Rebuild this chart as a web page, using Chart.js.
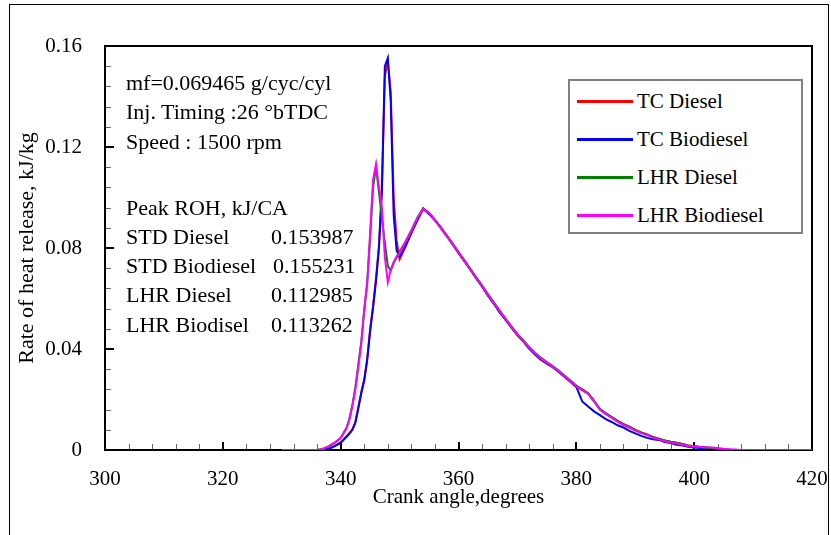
<!DOCTYPE html>
<html>
<head>
<meta charset="utf-8">
<script src="https://cdn.jsdelivr.net/npm/chart.js@4"></script>
<style>
  body { margin: 0; background: #fff; }
  #wrap { position: relative; width: 831px; height: 535px; overflow: hidden; font-family: 'Liberation Serif', 'Times New Roman', serif; }
  #frame { position: absolute; left: 9px; top: 4px; width: 818px; height: 560px; border: 1px solid #000; }
  canvas { position: absolute; left: 0; top: 0; }
  .note { position: absolute; font-size: 22px; line-height: 28px; white-space: pre; color: #000; }
  #legend { position: absolute; left: 568px; top: 79px; width: 231px; height: 151px; border: 2px solid #808080; background: #fff; }
  .lg-row { position: absolute; left: 0; height: 24px; }
  .lg-line { position: absolute; left: 7px; top: 11px; width: 56px; height: 0; border-top: 3px solid; }
  .lg-text { position: absolute; left: 67px; top: 0; font-size: 21px; line-height: 24px; white-space: pre; }
</style>
</head>
<body>
<div id="wrap">
  <div id="frame"></div>
  <canvas id="chart" width="831" height="535"></canvas>

  <div class="note" style="left:126px; top:69px;">mf=0.069465 g/cyc/cyl</div>
  <div class="note" style="left:126px; top:98px;">Inj. Timing :26 °bTDC</div>
  <div class="note" style="left:126px; top:128px;">Speed : 1500 rpm</div>
  <div class="note" style="left:126px; top:194px;">Peak ROH, kJ/CA</div>
  <div class="note" style="left:126px; top:223px;">STD Diesel</div>
  <div class="note" style="left:271px; top:223px;">0.153987</div>
  <div class="note" style="left:126px; top:252px;">STD Biodiesel</div>
  <div class="note" style="left:273px; top:252px;">0.155231</div>
  <div class="note" style="left:126px; top:281px;">LHR Diesel</div>
  <div class="note" style="left:271px; top:281px;">0.112985</div>
  <div class="note" style="left:126px; top:311px;">LHR Biodisel</div>
  <div class="note" style="left:271px; top:311px;">0.113262</div>

  <div id="legend"></div>
</div>

<script>
  // crank angle (deg), shared by all four curves
  const angles = [330, 332, 334, 336, 337, 338, 339,
    340, 340.5, 341, 341.5, 342, 342.5, 343, 343.5, 344, 344.5, 345, 345.5,
    346, 346.5, 347, 347.5, 348, 348.5, 349, 349.5, 350,
    351, 352, 353, 354, 355, 356, 357, 358, 359, 360,
    361, 362, 363, 364, 365, 366, 367, 368, 369, 370,
    371, 372, 373, 374, 375, 376, 377, 378, 379, 380,
    381, 382, 383, 384, 385, 386, 387, 388, 389, 390,
    391, 392, 393, 394, 395, 396, 397, 398, 399, 400,
    401, 402, 403, 404, 405, 406, 407, 408, 409, 410,
    412, 416, 420];

  // rate of heat release, kJ/kg
  const tcDiesel = [null, null, null, 0, 0, 0.0005, 0.0016,
    0.003, 0.0042, 0.0055, 0.0068, 0.0083, 0.0112, 0.017, 0.023, 0.028, 0.036, 0.048, 0.057,
    0.068, 0.081, 0.104, 0.148, 0.154, 0.142, 0.1, 0.083, 0.0755,
    0.0805, 0.086, 0.091, 0.0955, 0.0935, 0.091, 0.088, 0.0848, 0.0815, 0.078,
    0.0748, 0.0715, 0.068, 0.0648, 0.0612, 0.058, 0.0545, 0.0515, 0.0485, 0.0455,
    0.043, 0.0402, 0.0378, 0.0358, 0.0342, 0.0328, 0.031, 0.029, 0.027, 0.025,
    0.024, 0.0225, 0.0195, 0.0162, 0.0145, 0.013, 0.0115, 0.0102, 0.0092, 0.008,
    0.007, 0.0062, 0.0052, 0.0045, 0.0038, 0.0033, 0.0029, 0.0024, 0.0018, 0.0015,
    0.0012, 0.001, 0.0008, 0.0005, 0.0002, 0, null, null, null, null,
    null, null, null];

  const tcBiodiesel = [null, null, null, 0, 0, 0.0005, 0.0015,
    0.0028, 0.004, 0.0052, 0.0065, 0.008, 0.0108, 0.0165, 0.0225, 0.0275, 0.0355, 0.047, 0.0565,
    0.067, 0.08, 0.103, 0.152, 0.1552, 0.138, 0.093, 0.079, 0.0765,
    0.081, 0.086, 0.091, 0.0955, 0.0935, 0.091, 0.088, 0.0848, 0.0815, 0.078,
    0.0748, 0.0715, 0.068, 0.0648, 0.0612, 0.058, 0.0545, 0.0515, 0.0485, 0.0455,
    0.043, 0.0402, 0.0378, 0.0358, 0.0342, 0.0328, 0.031, 0.029, 0.027, 0.025,
    0.0192, 0.0172, 0.0153, 0.0138, 0.0122, 0.0111, 0.0098, 0.0089, 0.0076, 0.0066,
    0.0056, 0.0048, 0.0043, 0.004, 0.0032, 0.0028, 0.0021, 0.0018, 0.0013, 0.001,
    0.0008, 0.0008, 0.0005, 0.0003, 0.0002, 0.0001, 0, 0, 0, 0,
    null, null, null];

  const lhrDiesel = [null, 0, 0, 0, 0.0004, 0.0014, 0.0028,
    0.0047, 0.0068, 0.0088, 0.0125, 0.018, 0.025, 0.034, 0.043, 0.055, 0.066, 0.084, 0.104,
    0.112, 0.102, 0.092, 0.082, 0.073, 0.071, 0.074, 0.0765, 0.0785,
    0.0825, 0.087, 0.092, 0.0958, 0.094, 0.0912, 0.0883, 0.085, 0.0818, 0.0785,
    0.0752, 0.0718, 0.0685, 0.0652, 0.0618, 0.0585, 0.0552, 0.052, 0.049, 0.046,
    0.0435, 0.0408, 0.0385, 0.0365, 0.0348, 0.0332, 0.0315, 0.0295, 0.0275, 0.0255,
    0.024, 0.0225, 0.0195, 0.0162, 0.0145, 0.013, 0.0115, 0.0102, 0.0092, 0.008,
    0.007, 0.0062, 0.0052, 0.0045, 0.0038, 0.0033, 0.0029, 0.0024, 0.0018, 0.0015,
    0.0012, 0.001, 0.0008, 0.0005, 0.0002, 0, null, null, null, null,
    null, null, null];

  const lhrBiodiesel = [0, 0, 0, 0, 0.0005, 0.0015, 0.003,
    0.0048, 0.0066, 0.0086, 0.0122, 0.0175, 0.024, 0.033, 0.042, 0.056, 0.066, 0.086, 0.107,
    0.1132, 0.104, 0.096, 0.0765, 0.0665, 0.0715, 0.0745, 0.0765, 0.078,
    0.0825, 0.0868, 0.0918, 0.0956, 0.0938, 0.091, 0.088, 0.0847, 0.0815, 0.0782,
    0.0749, 0.0715, 0.0682, 0.0649, 0.0615, 0.0582, 0.0549, 0.0517, 0.0487, 0.0457,
    0.0432, 0.0405, 0.0382, 0.0362, 0.0345, 0.0329, 0.0312, 0.0292, 0.0272, 0.0252,
    0.0236, 0.0222, 0.0192, 0.0159, 0.0142, 0.0127, 0.0112, 0.0099, 0.0089, 0.0077,
    0.0067, 0.0059, 0.0049, 0.0042, 0.0035, 0.003, 0.0026, 0.0021, 0.0016, 0.0014,
    0.0012, 0.001, 0.001, 0.0008, 0.0005, 0.0003, 0.0002, 0, 0, 0,
    0, 0, 0];

  const seriesNames = ['TC Diesel', 'TC Biodiesel', 'LHR Diesel', 'LHR Biodiesel'];
  const seriesColors = ['#ff0000', '#0000ff', '#008000', '#ff00ff'];
  const seriesValues = [tcDiesel, tcBiodiesel, lhrDiesel, lhrBiodiesel];

  const xTicks = [300, 320, 340, 360, 380, 400, 420];
  const yTicks = [0, 0.04, 0.08, 0.12, 0.16];

  const FONT = "'Liberation Serif', 'Times New Roman', serif";

  // legend box (html, inside the plot)
  const legend = document.getElementById('legend');
  seriesNames.forEach(function (name, i) {
    const row = document.createElement('div');
    row.classList.add('lg-row');
    row.style.top = (8 + i * 38) + 'px';
    row.style.width = '100%';
    const line = document.createElement('span');
    line.classList.add('lg-line');
    line.style.borderTopColor = seriesColors[i];
    const text = document.createElement('span');
    text.classList.add('lg-text');
    text.innerText = name;
    row.appendChild(line);
    row.appendChild(text);
    legend.appendChild(row);
  });

  // frame round the plot + inward tick marks (excel style), under the curves
  const frameTicks = {
    id: 'frameTicks',
    beforeDatasetsDraw(chart) {
      const ctx = chart.ctx;
      const a = chart.chartArea;
      const x = chart.scales.x;
      const y = chart.scales.y;
      ctx.save();
      for (let v = 300; v <= 420; v += 4) {
        const px = Math.round(x.getPixelForValue(v));
        const major = xTicks.includes(v);
        ctx.strokeStyle = major ? '#000' : '#666';
        ctx.lineWidth = major ? 2 : 1;
        ctx.beginPath();
        ctx.moveTo(px + (major ? 0 : 0.5), a.bottom);
        ctx.lineTo(px + (major ? 0 : 0.5), a.bottom - (major ? 8 : 6));
        ctx.stroke();
      }
      for (let i = 0; i <= 20; i++) {
        const py = Math.round(y.getPixelForValue(i * 0.008));
        const major = i % 5 === 0;
        ctx.strokeStyle = major ? '#000' : '#666';
        ctx.lineWidth = major ? 2 : 1;
        ctx.beginPath();
        ctx.moveTo(a.left, py + (major ? 0 : 0.5));
        ctx.lineTo(a.left + (major ? 9 : 6), py + (major ? 0 : 0.5));
        ctx.stroke();
      }
      ctx.strokeStyle = '#000';
      ctx.lineWidth = 2;
      ctx.strokeRect(a.left, a.top, a.right - a.left, a.bottom - a.top);
      ctx.restore();
    }
  };

  const datasets = seriesNames.map(function (name, i) {
    return {
      label: name,
      data: seriesValues[i],
      borderColor: seriesColors[i],
      backgroundColor: seriesColors[i],
      borderWidth: 2,
      pointRadius: 0,
      tension: 0,
      spanGaps: false,
      order: 3 - i
    };
  });

  new Chart(document.getElementById('chart'), {
    type: 'line',
    data: { labels: angles, datasets: datasets },
    plugins: [frameTicks],
    options: {
      responsive: false,
      animation: false,
      devicePixelRatio: 1,
      layout: { padding: { top: 46, right: 19, left: 0, bottom: 0 } },
      plugins: { legend: { display: false }, tooltip: { enabled: false } },
      scales: {
        x: {
          type: 'linear',
          min: 300,
          max: 420,
          afterFit: function (s) { s.height = 85; s.paddingLeft = 0; s.paddingRight = 0; },
          afterBuildTicks: function (s) { s.ticks = xTicks.map(function (v) { return { value: v }; }); },
          grid: { display: false, drawTicks: false },
          border: { display: false },
          ticks: { color: '#000', padding: 17, maxRotation: 0, autoSkip: false, font: { family: FONT, size: 21 } },
          title: { display: true, text: 'Crank angle,degrees', color: '#000', padding: { top: 0, bottom: 25 }, font: { family: FONT, size: 21 } }
        },
        y: {
          min: 0,
          max: 0.16,
          afterFit: function (s) { s.width = 105; s.paddingTop = 0; s.paddingBottom = 0; },
          afterBuildTicks: function (s) { s.ticks = yTicks.map(function (v) { return { value: v }; }); },
          grid: { display: false, drawTicks: false },
          border: { display: false },
          ticks: {
            color: '#000', padding: 23, font: { family: FONT, size: 21 },
            callback: function (v) { return v === 0 ? '0' : v.toFixed(2); }
          },
          title: { display: true, text: 'Rate of heat release, kJ/kg', color: '#000', padding: { top: 14, bottom: 0 }, font: { family: FONT, size: 22 } }
        }
      }
    }
  });
</script>
</body>
</html>
